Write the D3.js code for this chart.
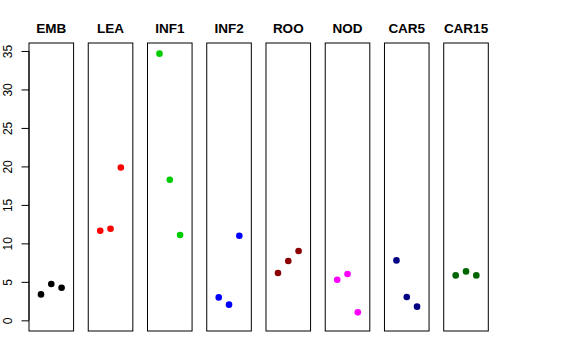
<!DOCTYPE html>
<html><head><meta charset="utf-8">
<script src="https://cdn.jsdelivr.net/npm/d3@7"></script>
<style>body{margin:0;background:#fff}svg{display:block}</style>
</head><body>
<svg id="c" width="576" height="360"></svg>
<script>
const categories = ["EMB","LEA","INF1","INF2","ROO","NOD","CAR5","CAR15"];
const colors = ["#000000","#FF0000","#00CD00","#0000FF","#8B0000","#FF00FF","#000080","#006400"];
const values = [
  [3.37, 4.72, 4.24],
  [11.64, 11.9, 19.86],
  [34.65, 18.26, 11.08],
  [2.98, 2.04, 10.99],
  [6.15, 7.71, 9.0],
  [5.28, 6.02, 1.04],
  [7.79, 3.04, 1.78],
  [5.84, 6.36, 5.84]
];
const yTicks = [0,5,10,15,20,25,30,35];

(function(){
const svg = d3.select("#c");
const plotTop = 43, plotBottom = 331;
const maxV = d3.max(values.flat());
const pad = maxV * 0.04;
const y = d3.scaleLinear().domain([0 - pad, maxV + pad]).range([plotBottom, plotTop]);
const panelX = d3.scaleBand().domain(categories).range([29, 488.3]).paddingInner(0.2475).paddingOuter(0);
const font = "'Liberation Sans', Arial, Helvetica, sans-serif";

categories.forEach((cat, i) => {
  const x0 = panelX(cat), w = panelX.bandwidth();
  const g = svg.append("g");
  g.append("rect").attr("x", x0).attr("y", plotTop).attr("width", w).attr("height", plotBottom - plotTop)
    .attr("fill", "none").attr("stroke", "#000").attr("stroke-width", 1);
  g.append("text").attr("x", x0 + w/2).attr("y", 33).attr("text-anchor", "middle")
    .attr("font-family", font).attr("font-weight", "bold").attr("font-size", 13.5).text(cat);
  const xs = d3.scalePoint().domain(d3.range(values[i].length)).range([x0 + w/2 - 10.3, x0 + w/2 + 10.3]);
  g.selectAll("circle").data(values[i]).enter().append("circle")
    .attr("cx", (d, j) => xs(j)).attr("cy", d => y(d)).attr("r", 3.3).attr("fill", colors[i]);
});

const ax = svg.append("g").attr("transform", "translate(29,0)")
  .call(d3.axisLeft(y).tickValues(yTicks).tickSize(7.5).tickPadding(4).tickSizeOuter(0));
ax.select(".domain").attr("d", `M0,${y(0)}V${y(35)}`).attr("stroke", "#000");
ax.selectAll(".tick line").attr("stroke", "#000");
ax.selectAll(".tick text").attr("font-family", font).attr("font-size", 12).attr("fill", "#000")
  .attr("text-anchor", "middle")
  .attr("transform", "translate(-17,0) rotate(-90)").attr("x", 0).attr("y", 0).attr("dy", "0");
})();
</script>
</body></html>
